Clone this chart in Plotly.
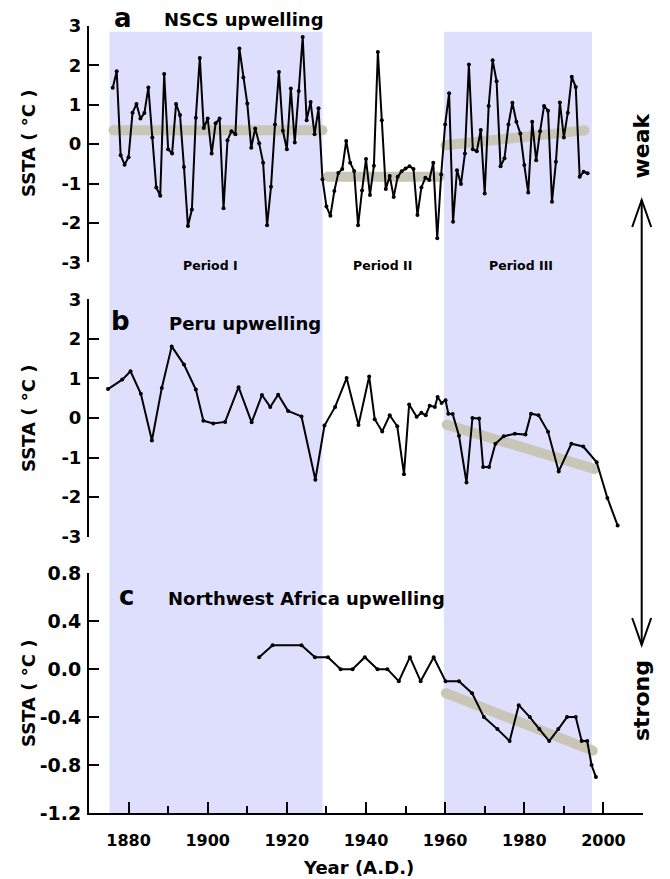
import plotly.graph_objects as go

# ---------------- data ----------------
nscs_years = list(range(1876, 1997))
nscs_ssta = [
    1.43, 1.85, -0.28, -0.52, -0.33, 0.80, 1.02, 0.65, 0.79, 1.44,
    0.17, -1.10, -1.31, 1.78, -0.13, -0.24, 1.02, 0.74, -0.58, -2.08,
    -1.66, 0.67, 2.19, 0.41, 0.65, -0.24, 0.53, 0.65, -1.63, 0.10,
    0.33, 0.25, 2.43, 1.69, 1.03, -0.09, 0.40, 0.02, -0.47, -2.06,
    -1.08, 0.50, 1.83, 0.34, -0.13, 1.41, 0.04, 1.35, 2.72, 0.61,
    1.07, 0.25, 0.91, -0.89, -1.58, -1.82, -1.19, -0.73, -0.63, 0.08,
    -0.47, -0.68, -2.06, -1.18, -0.38, -1.29, -0.55, 2.34, 0.61, -1.14,
    -0.81, -1.34, -0.83, -0.69, -0.62, -0.56, -0.63, -1.80, -1.10, -0.85,
    -0.91, -0.47, -2.39, -0.77, 0.50, 1.29, -1.97, -0.66, -1.01, -0.24,
    2.02, -0.13, -0.18, 0.36, -1.25, 0.97, 2.13, 1.60, -0.56, -0.36,
    0.50, 1.05, 0.57, 0.27, -0.53, -1.23, 0.57, -0.41, 0.33, 0.97,
    0.85, -1.46, -0.45, 1.06, 0.17, 0.80, 1.71, 1.45, -0.83, -0.70,
    -0.74,
]

peru_years = [1874.8, 1878.4, 1880.5, 1883.1, 1885.9, 1888.4, 1890.9, 1894.0, 1897.0, 1898.9,
              1901.4, 1904.4, 1907.8, 1911.1, 1913.7, 1915.8, 1917.8, 1920.3, 1923.7, 1927.2,
              1929.5, 1932.2, 1935.1, 1938.1, 1940.8, 1942.2, 1944.1, 1946.0, 1947.9, 1949.6,
              1950.9, 1952.8, 1954.0, 1955.1, 1956.1, 1957.4, 1958.1, 1959.1, 1960.1, 1960.8,
              1961.9, 1963.5, 1965.4, 1966.9, 1968.6, 1969.6, 1971.1, 1972.7, 1974.8, 1977.6,
              1980.3, 1981.7, 1983.6, 1986.0, 1988.7, 1991.9, 1994.9, 1998.3, 2001.0, 2003.6]
peru_ssta = [0.73, 0.97, 1.18, 0.61, -0.57, 0.76, 1.81, 1.35, 0.72, -0.07,
             -0.14, -0.10, 0.78, -0.11, 0.58, 0.28, 0.59, 0.18, 0.04, -1.56,
             -0.19, 0.28, 1.01, -0.18, 1.05, -0.03, -0.34, 0.07, -0.21, -1.42,
             0.34, 0.03, 0.13, 0.07, 0.31, 0.28, 0.53, 0.38, 0.45, 0.11,
             0.10, -0.45, -1.63, 0.00, -0.01, -1.24, -1.24, -0.65, -0.46, -0.40,
             -0.42, 0.11, 0.07, -0.35, -1.35, -0.65, -0.72, -1.12, -2.02, -2.72]

afr_years = [1913.0, 1916.4, 1923.7, 1927.1, 1930.4, 1933.6, 1936.6, 1939.7, 1942.9, 1945.4,
             1948.3, 1951.1, 1953.8, 1957.1, 1960.1, 1963.5, 1966.8, 1969.8, 1973.2, 1976.3,
             1978.6, 1981.4, 1983.8, 1986.3, 1988.6, 1990.8, 1993.0, 1994.5, 1995.9, 1997.0,
             1998.1]
afr_ssta = [0.1, 0.2, 0.2, 0.1, 0.1, 0.0, 0.0, 0.1, 0.0, 0.0,
            -0.1, 0.1, -0.1, 0.1, -0.1, -0.1, -0.2, -0.4, -0.5, -0.6,
            -0.3, -0.4, -0.5, -0.6, -0.5, -0.4, -0.4, -0.6, -0.6, -0.8,
            -0.9]

# trend segments (start/end year, start/end value)
nscs_trend1_x = [1876.2, 1929.0]
nscs_trend1_y = [0.35, 0.35]
nscs_trend2_x = [1930.3, 1958.6]
nscs_trend2_y = [-0.83, -0.83]
nscs_trend3_x = [1960.1, 1995.2]
nscs_trend3_y = [-0.03, 0.35]
peru_trend_x = [1960.4, 1997.8]
peru_trend_y = [-0.17, -1.29]
afr_trend_x = [1960.2, 1997.3]
afr_trend_y = [-0.20, -0.68]

# shaded periods
period_spans = [(1875.2, 1929.0), (1959.7, 1997.1)]
period_names = ["Period I", "Period II", "Period III"]
period_label_years = [1900.7, 1944.2, 1979.1]

# ticks
x_major = [1880, 1900, 1920, 1940, 1960, 1980, 2000]
x_major_text = ["1880", "1900", "1920", "1940", "1960", "1980", "2000"]
x_minor = [1890, 1910, 1930, 1950, 1970, 1990, 2010]
y_ab_ticks = [-3, -2, -1, 0, 1, 2, 3]
y_ab_text = ["-3", "-2", "-1", "0", "1", "2", "3"]
y_c_ticks = [-1.2, -0.8, -0.4, 0.0, 0.4, 0.8]
y_c_text = ["-1.2", "-0.8", "-0.4", "0.0", "0.4", "0.8"]

# ---------------- layout helpers ----------------
W, H = 670, 879
ML, MR, MT, MB = 89, 27, 26, 66
PW, PH = W - ML - MR, H - MT - MB


def px2x(px):
    return (px - ML) / PW


def py2y(py):
    return (H - MB - py) / PH


FONT = "DejaVu Sans"
TREND = "#C9C6B8"
SHADE = "#DDDFFD"

fig = go.Figure()


def add_trend(x, y, yaxis):
    fig.add_trace(go.Scatter(x=x, y=y, mode="lines+markers", yaxis=yaxis, xaxis="x",
                             line=dict(color=TREND, width=10),
                             marker=dict(color=TREND, size=10), hoverinfo="skip",
                             showlegend=False))


def add_series(x, y, yaxis):
    fig.add_trace(go.Scatter(x=x, y=y, mode="lines+markers", yaxis=yaxis, xaxis="x",
                             line=dict(color="black", width=2),
                             marker=dict(color="black", size=4), showlegend=False))


add_trend(nscs_trend1_x, nscs_trend1_y, "y")
add_trend(nscs_trend2_x, nscs_trend2_y, "y")
add_trend(nscs_trend3_x, nscs_trend3_y, "y")
add_series(nscs_years, nscs_ssta, "y")
add_trend(peru_trend_x, peru_trend_y, "y2")
add_series(peru_years, peru_ssta, "y2")
add_trend(afr_trend_x, afr_trend_y, "y3")
add_series(afr_years, afr_ssta, "y3")

yax_common = dict(showgrid=False, zeroline=False, showline=True, linecolor="black",
                  linewidth=2, ticks="inside", ticklen=10, tickwidth=2, tickcolor="black",
                  anchor="x", fixedrange=True, automargin=False, ticklabelstandoff=2)

dom_a = [py2y(262.3), 1.0]
dom_b = [py2y(536.7), py2y(299.3)]
dom_c = [0.0, py2y(573.3)]

shapes = []
for (x0, x1) in period_spans:
    shapes.append(dict(type="rect", xref="x", yref="paper", x0=x0, x1=x1, y0=0,
                       y1=py2y(31.7), fillcolor=SHADE, line=dict(width=0), layer="below"))

# double arrow on the right
ax = px2x(641.7)
ytop, ybot = py2y(200), py2y(645)
wing = 9.5 / PW
wing_h = 27 / PH
shapes.append(dict(type="line", xref="paper", yref="paper", x0=ax, x1=ax, y0=ytop, y1=ybot,
                   line=dict(color="black", width=2)))
shapes.append(dict(type="path", xref="paper", yref="paper",
                   path=f"M {ax - wing},{ytop - wing_h} L {ax},{ytop} L {ax + wing},{ytop - wing_h}",
                   line=dict(color="black", width=2)))
shapes.append(dict(type="path", xref="paper", yref="paper",
                   path=f"M {ax - wing},{ybot + wing_h} L {ax},{ybot} L {ax + wing},{ybot + wing_h}",
                   line=dict(color="black", width=2)))

annotations = []


def ann(text, px, py, size, xanchor="left", angle=0):
    annotations.append(dict(text=text, x=px2x(px), y=py2y(py), xref="paper", yref="paper",
                            xanchor=xanchor, yanchor="middle", showarrow=False,
                            textangle=angle,
                            font=dict(family=FONT, size=size, color="black", weight="bold")))


ann("a", 112, 17.5, 26)
ann("NSCS upwelling", 162, 19.8, 18)
ann("b", 109, 321, 26)
ann("Peru upwelling", 167, 323.8, 18)
ann("c", 117, 596, 26)
ann("Northwest Africa upwelling", 166, 598.8, 18)

for name, yr in zip(period_names, period_label_years):
    annotations.append(dict(text=name, x=yr, y=py2y(265.5), xref="x", yref="paper",
                            xanchor="center", yanchor="middle", showarrow=False,
                            font=dict(family=FONT, size=12.5, color="black", weight="bold")))

ann("weak", 640.5, 146, 22, xanchor="center", angle=-90)
ann("strong", 641, 701, 22, xanchor="center", angle=-90)
ann("SSTA ( °C )", 28, 144, 18, xanchor="center", angle=-90)
ann("SSTA ( °C )", 28, 419, 18, xanchor="center", angle=-90)
ann("SSTA ( °C )", 28, 694, 18, xanchor="center", angle=-90)
ann("Year (A.D.)", 358, 867, 18, xanchor="center")

fig.update_layout(
    width=W, height=H,
    margin=dict(l=ML, r=MR, t=MT, b=MB, pad=0, autoexpand=False),
    paper_bgcolor="white", plot_bgcolor="white",
    showlegend=False,
    xaxis=dict(domain=[0, 1], range=[1870, 2010], anchor="y3", showgrid=False, zeroline=False,
               showline=True, linecolor="black", linewidth=2,
               tickmode="array", tickvals=x_major, ticktext=x_major_text,
               ticks="inside", ticklen=11, tickwidth=2, tickcolor="black",
               ticklabelstandoff=12, automargin=False,
               tickfont=dict(family=FONT, size=16, color="black", weight="bold"),
               minor=dict(tickmode="array", tickvals=x_minor, ticks="inside", ticklen=7,
                          tickwidth=2, tickcolor="black", showgrid=False),
               fixedrange=True),
    yaxis=dict(domain=dom_a, range=[-3, 3], tickmode="array", tickvals=y_ab_ticks,
               ticktext=y_ab_text,
               tickfont=dict(family=FONT, size=18, color="black", weight="bold"),
               **yax_common),
    yaxis2=dict(domain=dom_b, range=[-3, 3], tickmode="array", tickvals=y_ab_ticks,
                ticktext=y_ab_text,
                tickfont=dict(family=FONT, size=18, color="black", weight="bold"),
                **yax_common),
    yaxis3=dict(domain=dom_c, range=[-1.2, 0.8], tickmode="array", tickvals=y_c_ticks,
                ticktext=y_c_text,
                tickfont=dict(family=FONT, size=19, color="black", weight="bold"),
                **yax_common),
    shapes=shapes,
    annotations=annotations,
)

fig.write_html(
    "out.html",
    config={"displayModeBar": False},
    post_script="document.body.style.margin='0';document.body.style.overflow='hidden';",
)
